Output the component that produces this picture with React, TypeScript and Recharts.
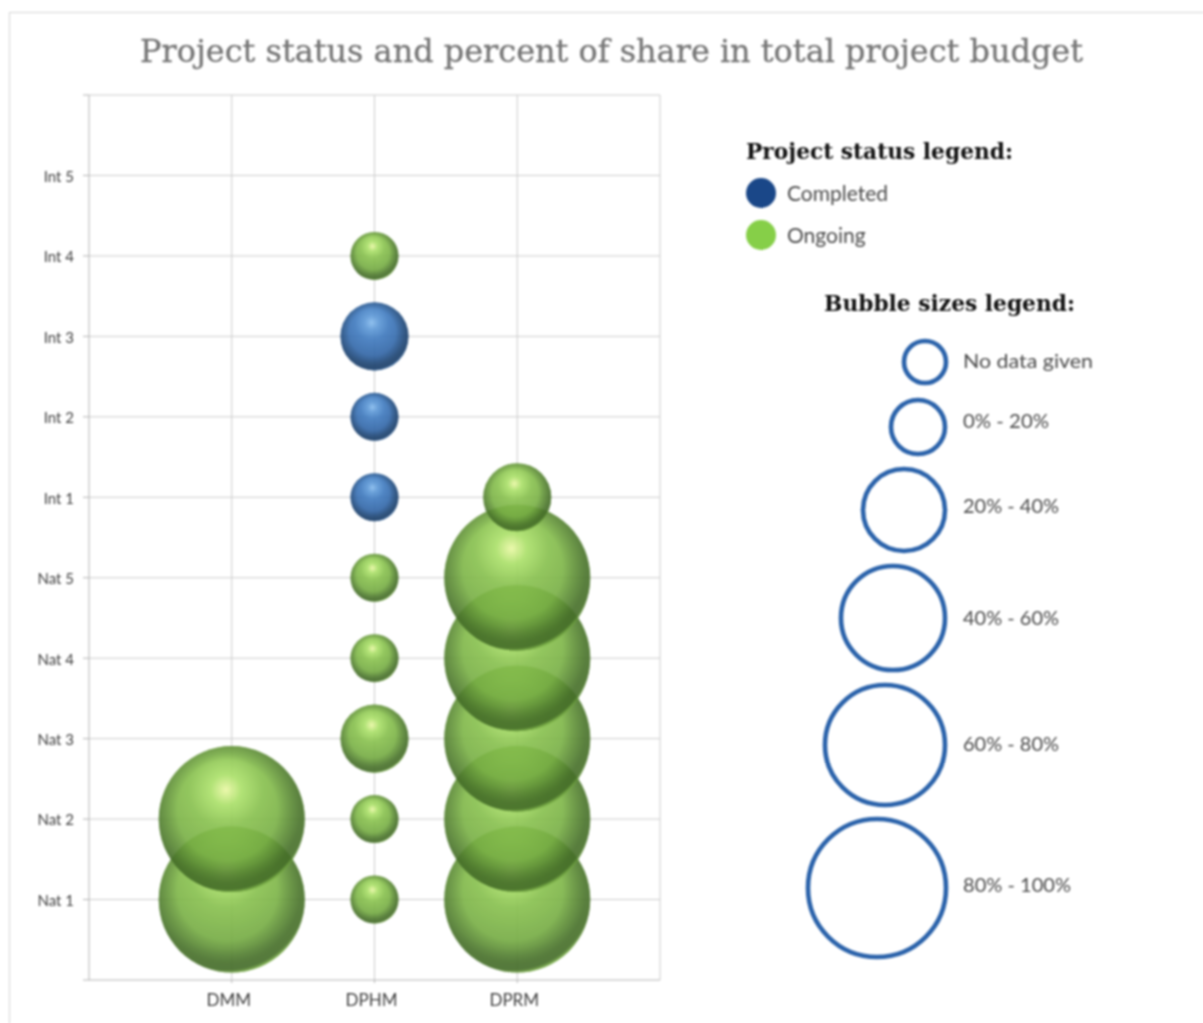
import { CartesianGrid, Scatter, ScatterChart, XAxis, YAxis, ZAxis } from "recharts"

const categories = ["DMM", "DPHM", "DPRM"]
const levels = ["Nat 1", "Nat 2", "Nat 3", "Nat 4", "Nat 5", "Int 1", "Int 2", "Int 3", "Int 4", "Int 5"]

// budget share of each bubble, 0 = no data given
const ongoingCategory = [1, 1, 2, 2, 2, 2, 2, 2, 3, 3, 3, 3, 3, 3]
const ongoingLevel = [1, 2, 1, 2, 3, 4, 5, 9, 1, 2, 3, 4, 5, 6]
const ongoingShare = [90, 90, 0, 0, 11, 0, 0, 0, 90, 90, 90, 90, 90, 11]

const completedCategory = [2, 2, 2]
const completedLevel = [6, 7, 8]
const completedShare = [0, 0, 11]

const statusLabels = ["Completed", "Ongoing"]
const sizeLabels = ["No data given", "0% - 20%", "20% - 40%", "40% - 60%", "60% - 80%", "80% - 100%"]

const ongoingData = ongoingCategory.map((c, i) => ({ category: c, level: ongoingLevel[i], share: ongoingShare[i] }))
const completedData = completedCategory.map((c, i) => ({ category: c, level: completedLevel[i], share: completedShare[i] }))

// legend layout
const statusKeys = [
  { color: "#1a4788", cy: 193, textY: 201 },
  { color: "#86cf48", cy: 235, textY: 243 },
]
const sizeRings = [
  { cx: 925, cy: 362, r: 21, textY: 368, width: 130 },
  { cx: 918, cy: 427, r: 27, textY: 428, width: 86 },
  { cx: 904, cy: 510, r: 41, textY: 513, width: 96 },
  { cx: 893, cy: 618, r: 52, textY: 625, width: 96 },
  { cx: 885, cy: 745, r: 60, textY: 751, width: 96 },
  { cx: 877, cy: 888, r: 69, textY: 892, width: 108 },
]

const serif = "'DejaVu Serif', serif"
const sans = "Lato, sans-serif"

const axisLine = { stroke: "#b4b4b4" }
const yTickStyle = { fill: "#404040", fontSize: 15, fontFamily: sans, dx: -7, dy: 1 }
const xTickStyle = { fill: "#404040", fontSize: 17, fontFamily: sans, dx: -3 }

function Sphere({ cx, cy, width, tone }: any) {
  const r = width / 2
  return (
    <g opacity={0.9}>
      <circle cx={cx} cy={cy} r={r} fill={`url(#${tone}-body)`} />
      <circle cx={cx} cy={cy} r={r} fill={`url(#${tone}-shade)`} />
    </g>
  )
}

function Gradients({ id, glow, light, mid, base, dark, rim }: any) {
  return (
    <>
      <radialGradient id={`${id}-body`} cx="0.46" cy="0.3" r="0.75">
        <stop offset="0" stopColor={glow} />
        <stop offset="0.14" stopColor={light} />
        <stop offset="0.34" stopColor={mid} />
        <stop offset="0.72" stopColor={base} />
        <stop offset="1" stopColor={dark} />
      </radialGradient>
      <radialGradient id={`${id}-shade`} cx="0.47" cy="0.44" r="0.57">
        <stop offset="0.6" stopColor={dark} stopOpacity={0} />
        <stop offset="0.88" stopColor={dark} stopOpacity={0.8} />
        <stop offset="0.95" stopColor={dark} stopOpacity={0.75} />
        <stop offset="1" stopColor={rim} stopOpacity={0.95} />
      </radialGradient>
    </>
  )
}

export default function App() {
  return (
    <div style={{ position: "absolute", left: 0, top: 0, width: 1203, height: 1023, background: "#fff", filter: "blur(0.9px)" }}>
      <div style={{ position: "absolute", left: 9, top: 12, width: 1194, height: 1011, borderTop: "1px solid #d4d4d4", borderLeft: "1px solid #d4d4d4" }} />
      <div style={{ position: "absolute", left: 0, top: 0 }}>
        <ScatterChart width={1203} height={1023} margin={{ top: 95, left: 39, right: 543, bottom: 13 }}>
          <defs>
            <Gradients id="green" glow="#eaf8a4" light="#aae068" mid="#87c04d" base="#6fa53f" dark="#3f6625" rim="#9ad65a" />
            <Gradients id="blue" glow="#86bbee" light="#5b97d6" mid="#3d78bd" base="#2c5f9f" dark="#163a63" rim="#3f78bb" />
          </defs>
          <CartesianGrid stroke="#cccccc" horizontalValues={[1, 2, 3, 4, 5, 6, 7, 8, 9, 10, 11]} verticalValues={[1, 2, 3, 4]} />
          <XAxis
            type="number"
            dataKey="category"
            domain={[0, 4]}
            ticks={[1, 2, 3]}
            interval={0}
            height={30}
            tickSize={3}
            tickMargin={11}
            axisLine={axisLine}
            tickLine={axisLine}
            tick={xTickStyle}
            tickFormatter={(v: number) => categories[v - 1] ?? ""}
          />
          <YAxis
            type="number"
            dataKey="level"
            domain={[0, 11]}
            ticks={[0, 1, 2, 3, 4, 5, 6, 7, 8, 9, 10, 11]}
            interval={0}
            width={50}
            axisLine={axisLine}
            tickLine={axisLine}
            tick={yTickStyle}
            tickFormatter={(v: number) => levels[v - 1] ?? ""}
          />
          <ZAxis type="number" dataKey="share" domain={[0, 90]} range={[1810, 16742]} />
          <Scatter name="Ongoing" data={ongoingData} isAnimationActive={false} shape={(p: any) => <Sphere {...p} tone="green" />} />
          <Scatter name="Completed" data={completedData} isAnimationActive={false} shape={(p: any) => <Sphere {...p} tone="blue" />} />
        </ScatterChart>
      </div>
      <svg width={1203} height={1023} style={{ position: "absolute", left: 0, top: 0, pointerEvents: "none" }}>
        <text x={140} y={62} fontFamily={serif} fontSize={32} fill="#757575" stroke="#757575" strokeWidth={0.3} textLength={943} lengthAdjust="spacingAndGlyphs">
          Project status and percent of share in total project budget
        </text>
        <text x={746} y={159} fontFamily={serif} fontWeight="bold" fontSize={22} fill="#111111" textLength={267} lengthAdjust="spacingAndGlyphs">
          Project status legend:
        </text>
        {statusKeys.map((s, i) => (
          <g key={statusLabels[i]}>
            <circle cx={761} cy={s.cy} r={15} fill={s.color} />
            <text x={787} y={s.textY} fontFamily={sans} fontSize={21} fill="#4a4a4a">{statusLabels[i]}</text>
          </g>
        ))}
        <text x={824} y={311} fontFamily={serif} fontWeight="bold" fontSize={22} fill="#111111" textLength={251} lengthAdjust="spacingAndGlyphs">
          Bubble sizes legend:
        </text>
        {sizeRings.map((s, i) => (
          <g key={sizeLabels[i]}>
            <circle cx={s.cx} cy={s.cy} r={s.r} fill="none" stroke="#2a62aa" strokeWidth={4.6} />
            <text x={963} y={s.textY} fontFamily={sans} fontSize={20} fill="#4a4a4a" textLength={s.width} lengthAdjust="spacingAndGlyphs">{sizeLabels[i]}</text>
          </g>
        ))}
      </svg>
    </div>
  )
}
